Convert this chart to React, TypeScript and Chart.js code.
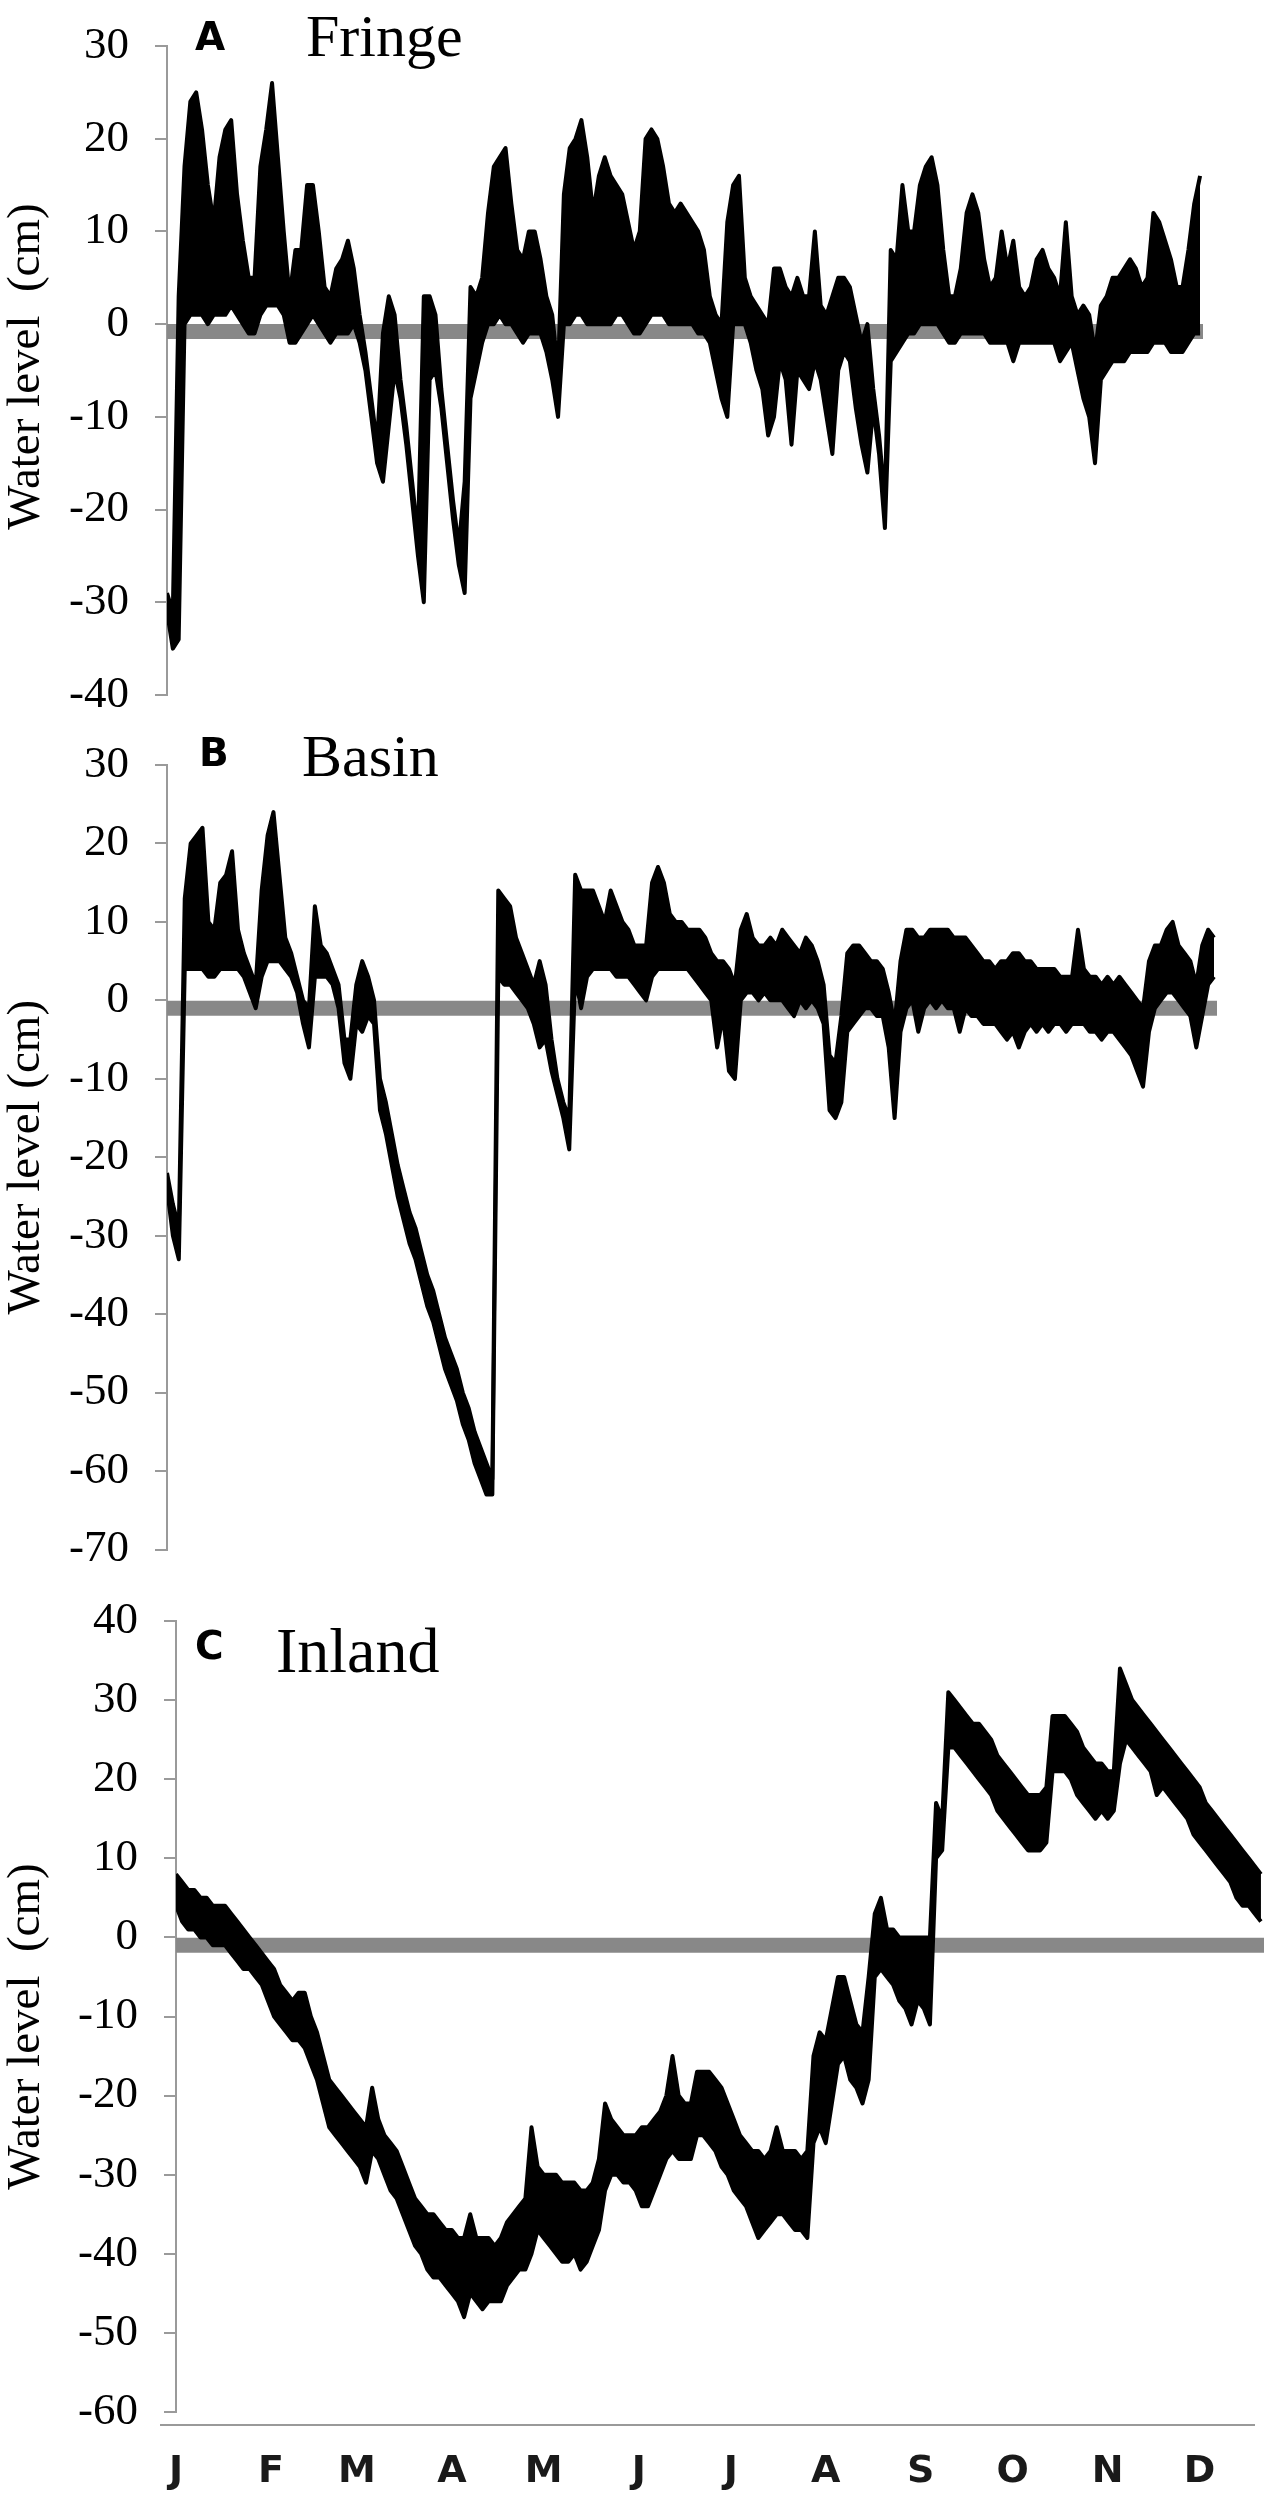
import React, { useEffect, useRef } from "react";
import { Chart, registerables } from "chart.js";

Chart.register(...registerables);

// ---------- axis categories ----------
const MONTH_LABELS = ["J", "F", "M", "A", "M", "J", "J", "A", "S", "O", "N", "D"];
const MONTH_START_DAYS = [0, 31, 59, 90, 120, 151, 181, 212, 243, 273, 304, 334];
const SAMPLE_STEP_DAYS = 2; // envelope read every 2 days, day 0 .. 354
const LAST_DAY = 355;

// ---------- A: Fringe (upper / lower envelope of the tidal record, cm) ----------
const FRINGE_HIGH = [
  -29, -31, 3, 17, 24, 25, 21, 15, 11, 18,
  21, 22, 14, 9, 5, 5, 17, 21, 26, 18,
  10, 3, 8, 8, 15, 15, 10, 4, 3, 6,
  7, 9, 6, 1, -3, -8, -13, -1, 3, 1,
  -6, -11, -17, -23, 3, 3, 1, -7, -13, -19,
  -24, -17, 4, 3, 5, 12, 17, 18, 19, 13,
  8, 7, 10, 10, 7, 3, 1, -5, 14, 19,
  20, 22, 18, 12, 16, 18, 16, 15, 14, 11,
  8, 10, 20, 21, 20, 17, 13, 12, 13, 12,
  11, 10, 8, 3, 1, 0, 11, 15, 16, 5,
  3, 2, 1, 0, 6, 6, 4, 3, 5, 3,
  3, 10, 2, 1, 3, 5, 5, 4, 1, -2,
  0, -7, -12, -19, 8, 7, 15, 10, 10, 15,
  17, 18, 15, 8, 3, 3, 6, 12, 14, 12,
  7, 4, 5, 10, 6, 9, 4, 3, 4, 7,
  8, 6, 5, 3, 11, 3, 1, 2, 1, -3,
  2, 3, 5, 5, 6, 7, 6, 4, 5, 12,
  11, 9, 7, 4, 4, 8, 13, 16,
];
const FRINGE_LOW = [
  -31, -35, -34, 0, 1, 1, 1, 0, 1, 1,
  1, 2, 1, 0, -1, -1, 1, 2, 2, 2,
  1, -2, -2, -1, 0, 1, 0, -1, -2, -1,
  -1, -1, 0, -2, -5, -10, -15, -17, -11, -5,
  -8, -13, -19, -25, -30, -6, -5, -9, -15, -21,
  -26, -29, -8, -5, -2, 0, 0, 1, 0, 0,
  -1, -2, -1, -1, -1, -3, -6, -10, 0, 0,
  1, 1, 0, 0, 0, 0, 0, 1, 1, 0,
  -1, -1, 0, 1, 1, 1, 0, 0, 0, 0,
  0, -1, -1, -2, -5, -8, -10, 0, 0, 0,
  -2, -5, -7, -12, -10, -4, -6, -13, -5, -6,
  -7, -4, -6, -10, -14, -5, -3, -4, -9, -13,
  -16, -9, -14, -22, -4, -3, -2, -1, -1, 0,
  0, 0, 0, -1, -2, -2, -1, -1, -1, -1,
  -1, -2, -2, -2, -2, -4, -2, -2, -2, -2,
  -2, -2, -2, -4, -3, -2, -5, -8, -10, -15,
  -6, -5, -4, -4, -4, -3, -3, -3, -3, -2,
  -2, -2, -3, -3, -3, -2, -1, -1,
];
const FRINGE_GROUND = -0.8;

// ---------- B: Basin ----------
const BASIN_HIGH = [
  -22, -26, -29, 13, 20, 21, 22, 10, 9, 15,
  16, 19, 9, 6, 4, 2, 14, 21, 24, 16,
  8, 6, 3, 0, -1, 12, 7, 6, 4, 2,
  -5, -5, 2, 5, 3, 0, -10, -13, -17, -21,
  -24, -27, -29, -32, -35, -37, -40, -43, -45, -47,
  -50, -52, -55, -57, -59, -61, 14, 13, 12, 8,
  6, 4, 2, 5, 2, -5, -10, -13, -15, 16,
  14, 14, 14, 12, 10, 14, 12, 10, 9, 7,
  7, 7, 15, 17, 15, 11, 10, 10, 9, 9,
  9, 8, 6, 5, 5, 4, 2, 9, 11, 8,
  7, 7, 8, 7, 9, 8, 7, 6, 8, 7,
  5, 2, -7, -8, -2, 6, 7, 7, 6, 5,
  5, 4, 1, -3, 5, 9, 9, 8, 8, 9,
  9, 9, 9, 8, 8, 8, 7, 6, 5, 5,
  4, 5, 5, 6, 6, 5, 5, 4, 4, 4,
  4, 3, 3, 3, 9, 4, 3, 3, 2, 3,
  2, 3, 2, 1, 0, -1, 5, 7, 7, 9,
  10, 7, 6, 5, 2, 7, 9, 8,
];
const BASIN_LOW = [
  -24, -30, -33, 4, 4, 4, 4, 3, 3, 4,
  4, 4, 4, 3, 1, -1, 3, 5, 5, 5,
  4, 3, 1, -3, -6, 3, 3, 3, 2, -1,
  -8, -10, -3, -4, -2, -3, -14, -17, -21, -25,
  -28, -31, -33, -36, -39, -41, -44, -47, -49, -51,
  -54, -56, -59, -61, -63, -63, 3, 2, 2, 1,
  0, -1, -3, -6, -5, -9, -12, -15, -19, 3,
  -1, 3, 4, 4, 4, 4, 3, 3, 3, 2,
  1, 0, 3, 4, 4, 4, 4, 4, 4, 3,
  2, 1, 0, -6, -2, -9, -10, 0, 1, 1,
  0, 1, 0, 0, 0, -1, -2, 0, -1, 0,
  -1, -3, -14, -15, -13, -4, -3, -2, -1, -1,
  -2, -2, -6, -15, -4, -1, 0, -4, -1, 0,
  -1, 0, -1, -1, -4, -1, -2, -2, -3, -3,
  -3, -4, -5, -4, -6, -4, -3, -4, -3, -4,
  -3, -3, -4, -3, -3, -3, -4, -4, -5, -4,
  -4, -5, -6, -7, -9, -11, -4, -1, 0, 1,
  1, 0, -1, -2, -6, -2, 2, 3,
];
const BASIN_GROUND = -1;

// ---------- C: Inland ----------
const INLAND_HIGH = [
  8, 7, 6, 6, 5, 5, 4, 4, 4, 3,
  2, 1, 0, -1, -2, -3, -4, -6, -7, -8,
  -7, -7, -10, -12, -15, -18, -19, -20, -21, -22,
  -23, -24, -19, -23, -25, -26, -27, -29, -31, -33,
  -34, -35, -35, -36, -37, -37, -38, -38, -35, -38,
  -38, -38, -39, -38, -36, -35, -34, -33, -24, -29,
  -30, -30, -30, -31, -31, -31, -32, -32, -31, -28,
  -21, -23, -24, -25, -25, -25, -24, -24, -23, -22,
  -20, -15, -20, -21, -21, -17, -17, -17, -18, -19,
  -21, -23, -25, -26, -27, -27, -28, -27, -24, -27,
  -27, -27, -28, -27, -15, -12, -13, -9, -5, -5,
  -8, -11, -12, -5, 3, 5, 1, 1, 0, 0,
  0, 0, 0, 0, 17, 15, 31, 30, 29, 28,
  27, 27, 26, 25, 23, 22, 21, 20, 19, 18,
  18, 18, 19, 28, 28, 28, 27, 26, 24, 23,
  22, 22, 21, 21, 34, 32, 30, 29, 28, 27,
  26, 25, 24, 23, 22, 21, 20, 19, 17, 16,
  15, 14, 13, 12, 11, 10, 9, 8,
];
const INLAND_LOW = [
  4, 2, 1, 1, 0, 0, -1, -1, -1, -2,
  -3, -4, -4, -5, -6, -8, -10, -11, -12, -13,
  -13, -14, -16, -18, -21, -24, -25, -26, -27, -28,
  -29, -31, -27, -28, -30, -32, -33, -35, -37, -39,
  -40, -42, -43, -43, -44, -45, -46, -48, -45, -46,
  -47, -46, -46, -46, -44, -43, -42, -42, -40, -37,
  -38, -39, -40, -41, -41, -40, -42, -41, -39, -37,
  -32, -30, -30, -31, -31, -32, -34, -34, -32, -30,
  -28, -27, -28, -28, -28, -25, -25, -26, -27, -29,
  -30, -32, -33, -34, -36, -38, -37, -36, -35, -35,
  -36, -37, -37, -38, -26, -24, -26, -21, -16, -15,
  -18, -19, -21, -18, -5, -4, -5, -6, -8, -9,
  -11, -8, -9, -11, 10, 11, 24, 24, 23, 22,
  21, 20, 19, 18, 16, 15, 14, 13, 12, 11,
  11, 11, 12, 21, 21, 21, 20, 18, 17, 16,
  15, 16, 15, 16, 22, 25, 24, 23, 22, 21,
  18, 19, 18, 17, 16, 15, 13, 12, 11, 10,
  9, 8, 7, 5, 4, 4, 3, 2,
];
const INLAND_GROUND = -1;

// ---------- styling ----------
const SERIF = '"Liberation Serif", "Times New Roman", serif';
const SANS = '"DejaVu Sans", Verdana, sans-serif';
const AXIS_GREY = "#9a9a9a";
const BAND_GREY = "#888888";
const PAGE_W = 1284;

type Panel = {
  id: string;
  letter: string;
  name: string;
  high: number[];
  low: number[];
  ground: number;
  yMin: number;
  yMax: number;
  yTitle: string;
  titleShift: number;
  top: number;
  height: number;
  axisX: number;
  areaRight: number;
  areaTop: number;
  areaBottom: number;
  letterX: number;
  letterY: number;
  nameX: number;
  nameY: number;
  nameSize: number;
  months: boolean;
};

const PANELS: Panel[] = [
  {
    id: "A", letter: "A", name: "Fringe", high: FRINGE_HIGH, low: FRINGE_LOW, ground: FRINGE_GROUND,
    yMin: -40, yMax: 30, yTitle: "Water level  (cm)", titleShift: -4,
    top: 0, height: 720, axisX: 167, areaRight: 1203, areaTop: 46, areaBottom: 695,
    letterX: 195, letterY: 50, nameX: 306, nameY: 56, nameSize: 60, months: false,
  },
  {
    id: "B", letter: "B", name: "Basin", high: BASIN_HIGH, low: BASIN_LOW, ground: BASIN_GROUND,
    yMin: -70, yMax: 30, yTitle: "Water level (cm)", titleShift: 0,
    top: 720, height: 860, axisX: 167, areaRight: 1217, areaTop: 45, areaBottom: 829.5,
    letterX: 199, letterY: 46, nameX: 302, nameY: 56, nameSize: 60, months: false,
  },
  {
    id: "C", letter: "C", name: "Inland", high: INLAND_HIGH, low: INLAND_LOW, ground: INLAND_GROUND,
    yMin: -60, yMax: 40, yTitle: "Water level  (cm)", titleShift: 10,
    top: 1580, height: 920, axisX: 176, areaRight: 1264, areaTop: 41, areaBottom: 832,
    letterX: 195, letterY: 79, nameX: 276, nameY: 92, nameSize: 64, months: true,
  },
];

const panelDecor = {
  id: "panelDecor",
  afterDraw(chart: any, _args: any, o: any) {
    const { ctx, chartArea } = chart;
    ctx.save();
    ctx.fillStyle = "#000";
    ctx.textAlign = "left";
    ctx.textBaseline = "alphabetic";
    ctx.font = `bold 39px ${SANS}`;
    ctx.fillText(o.letter, o.letterX, o.letterY);
    ctx.font = `${o.nameSize}px ${SERIF}`;
    ctx.fillText(o.name, o.nameX, o.nameY);

    // rotated y-axis title
    ctx.save();
    ctx.translate(27, (chartArea.top + chartArea.bottom) / 2 + o.titleShift);
    ctx.rotate(-Math.PI / 2);
    ctx.textAlign = "center";
    ctx.textBaseline = "middle";
    ctx.font = `47px ${SERIF}`;
    ctx.fillText(o.yTitle, 0, 0);
    ctx.restore();

    if (o.baseLine) {
      ctx.strokeStyle = AXIS_GREY;
      ctx.lineWidth = 2;
      ctx.beginPath();
      ctx.moveTo(chartArea.left - 16, chartArea.bottom + 13);
      ctx.lineTo(chartArea.right - 9, chartArea.bottom + 13);
      ctx.stroke();
    }
    ctx.restore();
  },
};

function PanelChart({ panel }: { panel: Panel }) {
  const ref = useRef<HTMLCanvasElement | null>(null);

  useEffect(() => {
    const canvas = ref.current;
    if (!canvas) return;
    const toPoints = (vals: number[]) =>
      vals.map((v, i) => ({ x: i * SAMPLE_STEP_DAYS, y: v }));

    const chart = new Chart(canvas, {
      type: "line",
      data: {
        datasets: [
          {
            label: "ground",
            data: [
              { x: 0, y: panel.ground },
              { x: LAST_DAY, y: panel.ground },
            ],
            borderColor: BAND_GREY,
            borderWidth: 15,
            borderCapStyle: "butt",
            pointRadius: 0,
            fill: false,
            order: 5,
          },
          {
            label: "high",
            data: toPoints(panel.high),
            borderColor: "#000",
            borderWidth: 4,
            borderJoinStyle: "round",
            pointRadius: 0,
            tension: 0,
            fill: false,
            order: 1,
          },
          {
            label: "low",
            data: toPoints(panel.low),
            borderColor: "#000",
            backgroundColor: "#000",
            borderWidth: 4,
            borderJoinStyle: "round",
            pointRadius: 0,
            tension: 0,
            fill: "-1",
            order: 1,
          },
        ],
      },
      options: {
        responsive: true,
        maintainAspectRatio: false,
        animation: false,
        events: [],
        layout: {
          padding: {
            left: 0,
            top: panel.areaTop,
            right: PAGE_W - panel.areaRight,
            bottom: panel.months ? 0 : panel.height - panel.areaBottom,
          },
        },
        plugins: {
          legend: { display: false },
          tooltip: { enabled: false },
          panelDecor: {
            letter: panel.letter,
            name: panel.name,
            letterX: panel.letterX,
            letterY: panel.letterY,
            nameX: panel.nameX,
            nameY: panel.nameY,
            nameSize: panel.nameSize,
            yTitle: panel.yTitle,
            titleShift: panel.titleShift,
            baseLine: panel.months,
          },
        } as any,
        scales: {
          x: {
            type: "linear",
            min: 0,
            max: LAST_DAY,
            display: panel.months,
            afterBuildTicks: (s: any) => {
              s.ticks = MONTH_START_DAYS.map((v) => ({ value: v }));
            },
            afterFit: (s: any) => {
              if (panel.months) s.height = panel.height - panel.areaBottom;
              s.paddingLeft = 0;
              s.paddingRight = 0;
            },
            ticks: {
              autoSkip: false,
              maxRotation: 0,
              minRotation: 0,
              padding: 37,
              color: "#1a1a1a",
              font: { family: SANS, size: 38, weight: "bold" },
              callback: (_v: any, i: number) => MONTH_LABELS[i],
            },
            grid: { display: false, drawTicks: false },
            border: { display: false },
          },
          y: {
            type: "linear",
            min: panel.yMin,
            max: panel.yMax,
            afterFit: (s: any) => {
              s.width = panel.axisX;
              s.paddingTop = 0;
              s.paddingBottom = 0;
            },
            ticks: {
              stepSize: 10,
              color: "#000",
              padding: 26,
              font: { family: SERIF, size: 45 },
              callback: (v: any) => String(v),
            },
            grid: {
              drawOnChartArea: false,
              drawTicks: true,
              tickLength: 12,
              color: AXIS_GREY,
              lineWidth: 2,
            },
            border: { display: true, color: AXIS_GREY, width: 2 },
            title: { display: false },
          },
        },
      },
      plugins: [panelDecor as any],
    } as any);

    return () => chart.destroy();
  }, [panel]);

  return (
    <div
      style={{
        position: "absolute",
        left: 0,
        top: panel.top,
        width: PAGE_W,
        height: panel.height,
      }}
    >
      <canvas ref={ref} />
    </div>
  );
}

export default function App() {
  return (
    <div
      style={{
        position: "absolute",
        left: 0,
        top: 0,
        width: PAGE_W,
        height: 2500,
        background: "#fff",
      }}
    >
      {PANELS.map((p) => (
        <PanelChart key={p.id} panel={p} />
      ))}
    </div>
  );
}
